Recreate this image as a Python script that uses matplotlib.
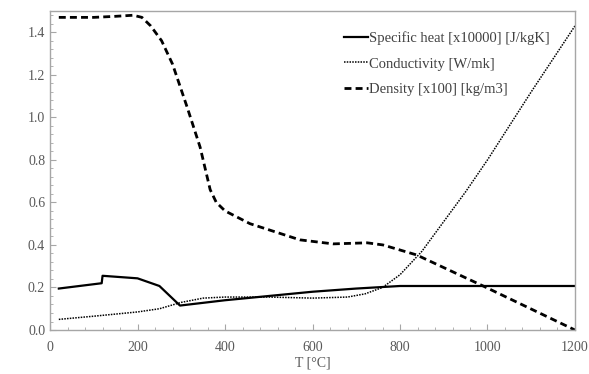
import matplotlib
matplotlib.use("Agg")
import matplotlib.pyplot as plt
from matplotlib.ticker import MultipleLocator

plt.rcParams['font.family'] = ['Liberation Serif', 'DejaVu Serif']

# Specific heat [x10000] [J/kgK]
cp_T = [20, 118, 120, 200, 250, 297, 400, 500, 600, 700, 800, 1200]
cp_v = [0.195, 0.22, 0.255, 0.243, 0.207, 0.115, 0.14, 0.16, 0.18, 0.195, 0.207, 0.207]

# Conductivity [W/mk]
k_T = [20, 100, 200, 250, 300, 350, 400, 500, 600, 680, 720, 760, 800, 850, 900, 950, 1000, 1100, 1200]
k_v = [0.05, 0.065, 0.085, 0.10, 0.13, 0.15, 0.155, 0.155, 0.15, 0.155, 0.17, 0.20, 0.26, 0.37,
       0.51, 0.65, 0.80, 1.12, 1.43]

# Density [x100] [kg/m3]
rho_T = [20, 100, 150, 190, 210, 230, 255, 280, 313, 343, 366, 380, 400, 457, 571, 647, 725, 761, 838, 990, 1200]
rho_v = [1.47, 1.47, 1.475, 1.48, 1.47, 1.43, 1.36, 1.25, 1.05, 0.86, 0.66, 0.60, 0.56, 0.50, 0.424,
         0.405, 0.41, 0.40, 0.353, 0.207, 0.0]

fig = plt.figure(figsize=(5.89, 3.74), dpi=100)
ax = fig.add_axes([0.085, 0.1176, 0.8912, 0.853])

ax.plot(cp_T, cp_v, color='black', lw=1.6, ls='-', label='Specific heat [x10000] [J/kgK]')
ax.plot(k_T, k_v, color='black', lw=1.1, ls=(0, (1, 0.8)), label='Conductivity [W/mk]')
ax.plot(rho_T, rho_v, color='black', lw=2.0, ls=(0, (2.5, 1.5)), label='Density [x100] [kg/m3]')

ax.set_xlim(0, 1200)
ax.set_ylim(0, 1.5)
ax.xaxis.set_major_locator(MultipleLocator(200))
ax.xaxis.set_minor_locator(MultipleLocator(40))
ax.yaxis.set_major_locator(MultipleLocator(0.2))
ax.yaxis.set_minor_locator(MultipleLocator(0.04))
ax.yaxis.set_major_formatter(plt.FuncFormatter(lambda v, p: f'{v:.1f}'))

grey = '#a6a6a6'
for s in ax.spines.values():
    s.set_color(grey)
    s.set_linewidth(1.0)
ax.tick_params(which='both', direction='in', color=grey, labelcolor='#595959', labelsize=10)
ax.tick_params(which='major', length=4)
ax.tick_params(which='minor', length=2.5)
ax.tick_params(axis='x', pad=8)

ax.set_xlabel('T [°C]', color='#595959', fontsize=10, labelpad=2)

leg = ax.legend(loc='upper right', bbox_to_anchor=(0.963, 0.955), frameon=False, fontsize=10.5,
                handlelength=1.65, handletextpad=0.05, labelspacing=0.85, borderaxespad=0)
for t in leg.get_texts():
    t.set_color('#404040')

fig.savefig('out.png', dpi=100)
